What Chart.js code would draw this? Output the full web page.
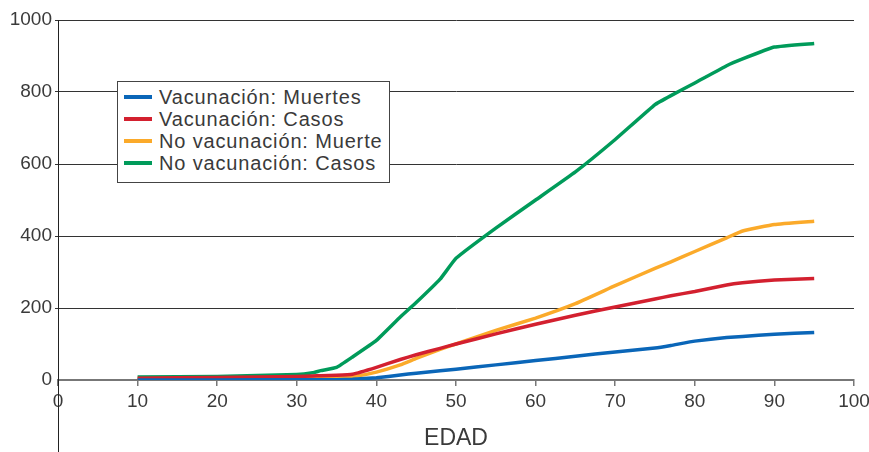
<!DOCTYPE html>
<html>
<head>
<meta charset="utf-8">
<script src="https://cdn.jsdelivr.net/npm/chart.js@4"></script>
<style>
  html, body { margin: 0; padding: 0; background: #fff; }
  #wrap { position: relative; width: 869px; height: 452px; }
  #legend {
    position: absolute; left: 117px; top: 81px; width: 271px; height: 100px;
    border: 1px solid #444; background: #fff; box-sizing: content-box;
    font-family: "Liberation Sans", Arial, sans-serif;
    font-size: 20px; letter-spacing: 0.85px; color: #3a3a3a;
  }
  #legend .row { display: flex; align-items: center; height: 22px; line-height: 22px; white-space: nowrap; }
  #legend .row:first-child { margin-top: 4px; }
  #legend .sw { width: 28px; height: 4px; margin-left: 6px; margin-right: 7px; flex: none; }
</style>
</head>
<body>
<div id="wrap">
  <canvas id="chart" width="869" height="452"></canvas>
  <div id="legend"></div>
</div>
<script>
// ages (x) shared by every series
const ages = [10, 20, 30, 32, 33, 35, 37, 40, 43, 45, 48, 50, 55, 60, 65, 70, 75, 77, 80, 84, 86, 90, 95]

const vacMuertes   = [0, 0, 1, 1, 1, 1, 2, 6, 14, 19, 26, 30, 42, 54, 66, 78, 89, 96, 108, 118, 121, 127, 132]
const vacCasos     = [5, 7, 10, 11, 12, 13, 16, 35, 57, 70, 88, 100, 128, 155, 180, 203, 225, 234, 246, 264, 270, 278, 282]
const noVacMuerte  = [3, 4, 5, 5, 5, 6, 9, 22, 42, 60, 85, 100, 138, 172, 212, 262, 310, 328, 357, 395, 414, 432, 441]
const noVacCasos   = [8, 10, 15, 20, 26, 35, 64, 110, 175, 215, 280, 338, 422, 500, 578, 668, 765, 790, 825, 873, 892, 925, 935]

const seriesLabels = ['Vacunación: Muertes', 'Vacunación: Casos', 'No vacunación: Muerte', 'No vacunación: Casos']
const seriesColors = ['#0a66b8', '#d3202f', '#fbaa2a', '#009b5a']
const seriesValues = [vacMuertes, vacCasos, noVacMuerte, noVacCasos]

const xTitle = 'EDAD'

const font = "'Liberation Sans', Arial, sans-serif"

const toPoints = (values) => values.map((v, i) => ({ x: ages[i], y: v }))

const datasets = seriesValues.map((values, i) => ({
    label: seriesLabels[i],
    data: toPoints(values),
    borderColor: seriesColors[i],
    backgroundColor: seriesColors[i],
    borderWidth: 3.5,
    pointRadius: 0,
    tension: 0.1,
    fill: false
}))

// y axis line keeps going down past the x axis
const axisExtend = {
    id: 'axisExtend',
    afterDraw(chart) {
        const ctx = chart.ctx
        const x = chart.scales.y.right
        ctx.save()
        ctx.strokeStyle = '#222'
        ctx.lineWidth = 1
        ctx.beginPath()
        ctx.moveTo(Math.round(x) + 0.5, chart.chartArea.bottom)
        ctx.lineTo(Math.round(x) + 0.5, chart.height)
        ctx.stroke()
        ctx.restore()
    }
}

const chart = new Chart(document.getElementById('chart'), {
    type: 'line',
    data: { datasets: datasets },
    options: {
        responsive: false,
        animation: false,
        layout: { padding: { top: 20, right: 0, left: 0, bottom: 0 } },
        plugins: {
            legend: { display: false },
            tooltip: { enabled: false }
        },
        scales: {
            x: {
                type: 'linear',
                min: 0,
                max: 100,
                ticks: { stepSize: 10, color: '#3a3a3a', font: { family: font, size: 19 }, padding: 4 },
                grid: { drawOnChartArea: false, drawTicks: true, tickLength: 6, color: '#777', lineWidth: 1.5 },
                border: { color: '#777', width: 2 },
                title: { display: true, text: xTitle, color: '#3a3a3a', font: { family: font, size: 23, lineHeight: 1.2 }, padding: { top: 0, bottom: 0 } },
                afterFit: (scale) => {
                    scale.height = 72
                    scale.paddingRight = 15
                }
            },
            y: {
                min: 0,
                max: 1000,
                ticks: {
                    stepSize: 200,
                    color: '#3a3a3a',
                    font: { family: font, size: 19 },
                    padding: 3,
                    callback: (v) => String(v)
                },
                grid: {
                    color: (c) => c.tick && c.tick.value === 0 ? 'rgba(0,0,0,0)' : '#333',
                    lineWidth: 1,
                    tickLength: 3
                },
                border: { color: '#222', width: 1 },
                afterFit: (scale) => { scale.width = 58 }
            }
        }
    },
    plugins: [axisExtend]
})

// legend built from the datasets
const legend = document.getElementById('legend')
chart.data.datasets.forEach((ds) => {
    const row = document.createElement('div')
    row.className = 'row'
    row.innerHTML = `<span class="sw" style="background:${ds.borderColor}"></span><span>${ds.label}</span>`
    legend.appendChild(row)
})
</script>
</body>
</html>
